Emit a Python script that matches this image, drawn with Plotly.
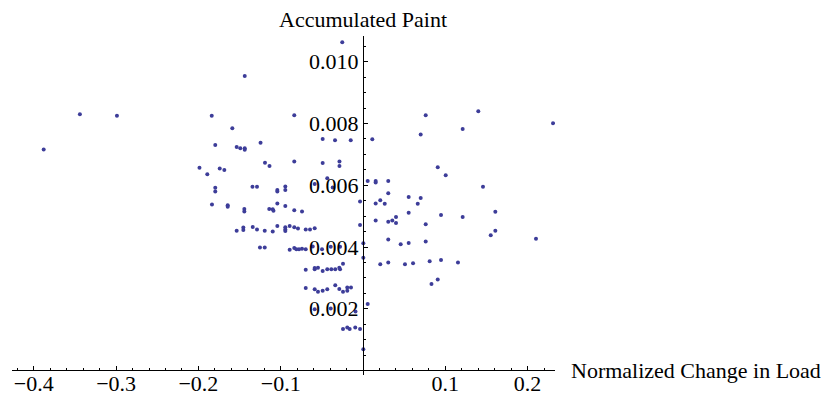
import plotly.graph_objects as go

# Normalized change in load (x) and accumulated paint (y)
load_change = [
    -0.388, -0.344, -0.299, -0.1437, -0.1838, -0.1588, -0.1795, -0.1535, -0.1491, -0.1437,
    -0.1437, -0.1245, -0.1987, -0.1892, -0.1741, -0.1685, -0.1191, -0.1136, -0.1795, -0.1795,
    -0.1343, -0.1288, -0.1041, -0.1041, -0.0944, -0.0944, -0.0835, -0.0835, -0.0490, -0.0286,
    -0.0286, -0.0490, -0.0340, -0.0149, -0.0252, 0.0113, -0.1835, -0.1644, -0.1644, -0.1442,
    -0.1442, -0.1139, -0.1097, -0.1088, -0.1041, -0.0944, -0.0835, -0.0741, -0.0587, -0.0434,
    -0.0368,
    -0.1535, -0.1454, -0.1454, -0.1340, -0.1288, -0.1194, -0.1097, -0.1041, -0.0944, -0.0944,
    -0.0944, -0.0891, -0.0835, -0.0790, -0.0696, -0.0644, -0.0587,
    -0.1252, -0.1194, -0.0891, -0.0835, -0.0810, -0.0778, -0.0741, -0.0696, -0.0611, -0.0498,
    -0.0392, -0.0279,
    -0.0696, -0.0587, -0.0587, -0.0547, -0.0490, -0.0434, -0.0385, -0.0337, -0.0288, -0.0279,
    -0.0243,
    -0.0696, -0.0587, -0.0547, -0.0490, -0.0434, -0.0337, -0.0288, -0.0243, -0.0191, -0.0191,
    -0.0146,
    -0.0587, -0.0392, -0.0091, 0.0057, -0.0243, -0.0191, -0.0162, -0.0094, -0.0036, 0.0004,
    -0.0036, -0.0036, 0.0004, 0.0004, 0.0057, 0.0154, 0.0154, 0.0154, 0.0210, 0.0264,
    0.0154, 0.0307, 0.0356, 0.0401, 0.0401, 0.0307, 0.0307, 0.0307, 0.0210, 0.0307,
    0.0458, 0.0555, 0.0555, 0.0701, 0.0665, 0.0555, 0.0762, 0.0762, 0.0510, 0.0608,
    0.0810, 0.0948, 0.1154, 0.0908, 0.0948, 0.1211, 0.1608, 0.1552, 0.1608, 0.2102,
    0.0908, 0.1005, 0.1458, 0.0701, 0.0762, 0.1401, 0.1211, 0.2309, 0.0832,
]
accumulated_paint = [
    0.00716, 0.00830, 0.00825, 0.00954, 0.00825, 0.00785, 0.00730, 0.00724, 0.00720, 0.00720,
    0.00715, 0.00738, 0.00657, 0.00636, 0.00654, 0.00649, 0.00673, 0.00662, 0.00592, 0.00580,
    0.00595, 0.00595, 0.00585, 0.00580, 0.00596, 0.00585, 0.00827, 0.00677, 0.00672, 0.00677,
    0.00662, 0.00750, 0.00746, 0.00746, 0.01063, 0.00749, 0.00538, 0.00535, 0.00530, 0.00523,
    0.00515, 0.00523, 0.00522, 0.00517, 0.00541, 0.00533, 0.00519, 0.00515, 0.00604, 0.00623,
    0.00593,
    0.00453, 0.00463, 0.00455, 0.00465, 0.00457, 0.00453, 0.00450, 0.00468, 0.00464, 0.00457,
    0.00452, 0.00468, 0.00464, 0.00460, 0.00457, 0.00457, 0.00461,
    0.00398, 0.00398, 0.00391, 0.00397, 0.00393, 0.00393, 0.00394, 0.00393, 0.00402, 0.00393,
    0.00401, 0.00401,
    0.00326, 0.00328, 0.00332, 0.00333, 0.00322, 0.00328, 0.00328, 0.00328, 0.00333, 0.00328,
    0.00346,
    0.00267, 0.00263, 0.00255, 0.00258, 0.00263, 0.00276, 0.00264, 0.00255, 0.00258, 0.00269,
    0.00269,
    0.00198, 0.00201, 0.00191, 0.00215, 0.00134, 0.00139, 0.00134, 0.00139, 0.00134, 0.00069,
    0.00547, 0.00471, 0.00412, 0.00365, 0.00614, 0.00614, 0.00609, 0.00541, 0.00551, 0.00540,
    0.00486, 0.00482, 0.00486, 0.00497, 0.00478, 0.00614, 0.00574, 0.00424, 0.00344, 0.00350,
    0.00409, 0.00413, 0.00562, 0.00559, 0.00540, 0.00511, 0.00474, 0.00418, 0.00344, 0.00347,
    0.00354, 0.00358, 0.00350, 0.00295, 0.00504, 0.00497, 0.00514, 0.00438, 0.00453, 0.00427,
    0.00658, 0.00632, 0.00595, 0.00764, 0.00827, 0.00840, 0.00782, 0.00801, 0.00280,
]

x_tick_vals = [-0.4, -0.3, -0.2, -0.1, 0.1, 0.2]
x_tick_text = ["\u22120.4", "\u22120.3", "\u22120.2", "\u22120.1", "0.1", "0.2"]
y_tick_vals = [0.002, 0.004, 0.006, 0.008, 0.010]
y_tick_text = ["0.002", "0.004", "0.006", "0.008", "0.010"]

x_title = "Normalized Change in Load"
y_title = "Accumulated Paint"

X_RANGE = [-0.4265, 0.2333]
Y_RANGE = [-0.000146, 0.010834]

FONT = "Liberation Serif"
POINT_COLOR = "#3d3d99"
FS = 22

fig = go.Figure()
fig.add_trace(go.Scatter(
    x=load_change, y=accumulated_paint, mode="markers",
    marker=dict(size=4, color=POINT_COLOR, line=dict(width=0)),
    showlegend=False, hoverinfo="x+y",
))

x_pos = (0 - Y_RANGE[0]) / (Y_RANGE[1] - Y_RANGE[0])
y_pos = (0 - X_RANGE[0]) / (X_RANGE[1] - X_RANGE[0])

# page body has an 8px default margin, so the figure is 8px smaller and shifted
fig.update_layout(
    width=822, height=390,
    margin=dict(l=4, r=275, t=28, b=23),
    paper_bgcolor="white", plot_bgcolor="white",
    font=dict(family=FONT, size=FS, color="black"),
    xaxis=dict(
        range=X_RANGE, anchor="free", position=x_pos,
        showgrid=False, zeroline=False, showline=True, linecolor="black", linewidth=1,
        tickmode="array", tickvals=x_tick_vals, ticktext=x_tick_text,
        ticks="inside", ticklen=4, tickwidth=1, tickcolor="black",
        minor=dict(ticks="inside", ticklen=2, tickmode="linear", tick0=0, dtick=0.02,
                   tickcolor="black", showgrid=False),
        tickfont=dict(family=FONT, size=FS, color="black"),
        ticklabelstandoff=-7,
        automargin=False, fixedrange=True,
    ),
    yaxis=dict(
        range=Y_RANGE, anchor="free", position=y_pos,
        showgrid=False, zeroline=False, showline=True, linecolor="black", linewidth=1,
        tickmode="array", tickvals=y_tick_vals, ticktext=y_tick_text,
        ticks="inside", ticklen=4, tickwidth=1, tickcolor="black",
        minor=dict(ticks="inside", ticklen=2, tickmode="linear", tick0=0, dtick=0.0005,
                   tickcolor="black", showgrid=False),
        tickfont=dict(family=FONT, size=FS, color="black"),
        ticklabelstandoff=0,
        automargin=False, fixedrange=True,
    ),
    annotations=[
        dict(text=y_title, xref="x", yref="paper", x=0, y=1, xanchor="center",
             yanchor="bottom", yshift=2, showarrow=False,
             font=dict(family=FONT, size=FS, color="black")),
        dict(text=x_title, xref="paper", yref="y", x=1, y=0, xanchor="left",
             yanchor="middle", xshift=14, showarrow=False,
             font=dict(family=FONT, size=FS, color="black")),
    ],
)

fig.write_html("out.html")
